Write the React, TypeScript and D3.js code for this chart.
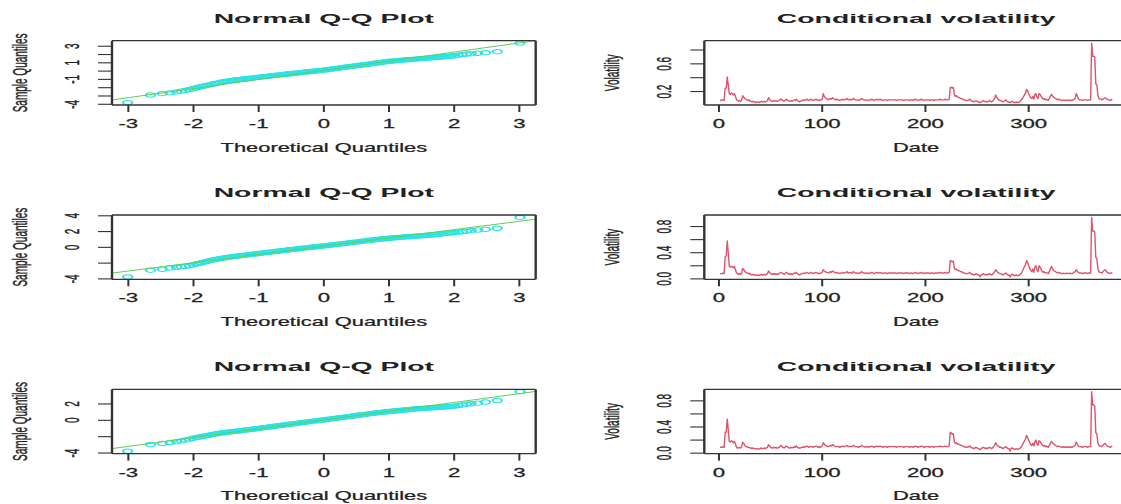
import React from 'react';
import * as d3 from 'd3';

const W = 1121;
const H = 504;

// theoretical quantiles at which the Q-Q points are read (shared by the three plots)
const qqTheory = [
  -3.01, -2.66, -2.48, -2.36, -2.26, -2.19, -2.12, -2.06, -2.01, -1.96, -1.92, -1.88, -1.84, -1.8, -1.76, -1.72, -1.68, -1.64,
  -1.6, -1.56, -1.52, -1.48, -1.44, -1.4, -1.36, -1.32, -1.28, -1.24, -1.2, -1.16, -1.12, -1.08, -1.04, -1, -0.96, -0.92, -0.88, -0.84,
  -0.8, -0.76, -0.72, -0.68, -0.64, -0.6, -0.56, -0.52, -0.48, -0.44, -0.4, -0.36, -0.32, -0.28, -0.24, -0.2, -0.16, -0.12, -0.08, -0.04,
  0,
  0.04, 0.08, 0.12, 0.16, 0.2, 0.24, 0.28, 0.32, 0.36, 0.4, 0.44, 0.48, 0.52, 0.56, 0.6, 0.64, 0.68, 0.72, 0.76, 0.8,
  0.84, 0.88, 0.92, 0.96, 1, 1.04, 1.08, 1.12, 1.16, 1.2, 1.24, 1.28, 1.32, 1.36, 1.4, 1.44, 1.48, 1.52, 1.56, 1.6,
  1.64, 1.68, 1.72, 1.76, 1.8, 1.84, 1.88, 1.92, 1.96, 2.01, 2.06, 2.12, 2.19, 2.26, 2.36, 2.48, 2.66, 3.01,
];

const qqSample1 = [
  -3.8, -2.88, -2.72, -2.62, -2.5, -2.42, -2.32, -2.22, -2.12, -2.03, -1.95, -1.87, -1.8, -1.73, -1.66, -1.59, -1.52, -1.46,
  -1.38, -1.32, -1.26, -1.21, -1.16, -1.12, -1.08, -1.04, -1.0, -0.96, -0.93, -0.89, -0.86, -0.82, -0.79, -0.74, -0.7, -0.67, -0.63, -0.6,
  -0.56, -0.52, -0.49, -0.45, -0.42, -0.38, -0.35, -0.32, -0.29, -0.25, -0.22, -0.18, -0.15, -0.11, -0.08, -0.05, -0.02, 0.02, 0.05, 0.09,
  0.12,
  0.16, 0.2, 0.25, 0.29, 0.33, 0.37, 0.42, 0.46, 0.5, 0.54, 0.59, 0.63, 0.67, 0.71, 0.76, 0.8, 0.84, 0.88, 0.93, 0.97,
  1.01, 1.05, 1.1, 1.14, 1.18, 1.21, 1.23, 1.26, 1.29, 1.32, 1.35, 1.37, 1.4, 1.42, 1.45, 1.47, 1.5, 1.52, 1.54, 1.56,
  1.59, 1.62, 1.64, 1.67, 1.7, 1.73, 1.76, 1.79, 1.82, 1.86, 1.92, 1.99, 2.06, 2.1, 2.15, 2.22, 2.34, 3.38,
];
const qqSample2 = [
  -3.75, -2.9, -2.78, -2.62, -2.52, -2.46, -2.4, -2.32, -2.22, -2.12, -2.04, -1.96, -1.88, -1.8, -1.72, -1.64, -1.56, -1.49,
  -1.43, -1.38, -1.33, -1.28, -1.23, -1.18, -1.14, -1.1, -1.06, -1.02, -0.98, -0.94, -0.9, -0.86, -0.82, -0.78, -0.74, -0.7, -0.66, -0.62,
  -0.58, -0.54, -0.5, -0.46, -0.42, -0.38, -0.34, -0.3, -0.26, -0.22, -0.18, -0.15, -0.11, -0.07, -0.03, 0.01, 0.04, 0.08, 0.11, 0.15,
  0.18,
  0.22, 0.26, 0.3, 0.34, 0.38, 0.42, 0.46, 0.5, 0.54, 0.58, 0.62, 0.66, 0.7, 0.74, 0.78, 0.82, 0.86, 0.9, 0.94, 0.98,
  1.02, 1.05, 1.09, 1.12, 1.15, 1.18, 1.21, 1.24, 1.27, 1.29, 1.32, 1.34, 1.37, 1.39, 1.42, 1.44, 1.46, 1.48, 1.51, 1.53,
  1.56, 1.59, 1.62, 1.66, 1.7, 1.74, 1.77, 1.8, 1.84, 1.88, 1.93, 1.98, 2.05, 2.12, 2.2, 2.28, 2.42, 3.8,
];
const qqSample3 = [
  -3.78, -2.96, -2.84, -2.72, -2.62, -2.52, -2.4, -2.3, -2.2, -2.12, -2.06, -2.0, -1.94, -1.88, -1.82, -1.76, -1.7, -1.64,
  -1.58, -1.54, -1.5, -1.46, -1.42, -1.39, -1.35, -1.31, -1.27, -1.23, -1.19, -1.15, -1.11, -1.07, -1.03, -0.99, -0.95, -0.9, -0.86, -0.82,
  -0.78, -0.73, -0.69, -0.65, -0.61, -0.56, -0.52, -0.48, -0.44, -0.4, -0.36, -0.31, -0.27, -0.23, -0.19, -0.14, -0.1, -0.07, -0.03, 0.01,
  0.05,
  0.1, 0.14, 0.18, 0.22, 0.27, 0.31, 0.35, 0.39, 0.44, 0.48, 0.52, 0.56, 0.61, 0.65, 0.69, 0.73, 0.78, 0.82, 0.86, 0.9,
  0.94, 0.97, 1.01, 1.04, 1.07, 1.1, 1.14, 1.17, 1.2, 1.23, 1.26, 1.29, 1.33, 1.36, 1.39, 1.42, 1.44, 1.46, 1.48, 1.5,
  1.52, 1.54, 1.56, 1.58, 1.61, 1.63, 1.65, 1.67, 1.69, 1.74, 1.8, 1.88, 1.96, 2.04, 2.1, 2.24, 2.42, 3.5,
];

// qqline: [intercept, slope]
const qqLine1 = [0.1, 1.1];
const qqLine2 = [0.15, 1.05];
const qqLine3 = [0.035, 1.075];

const qqXTicks = [-3, -2, -1, 0, 1, 2, 3];
const qqYTicks1 = [-4, -3, -2, -1, 0, 1, 2, 3];
const qqYLabels1 = [-4, -1, 1, 3];
const qqYTicks2 = [-4, -2, 0, 2, 4];
const qqYLabels2 = [-4, 0, 2, 4];
const qqYTicks3 = [-4, -2, 0, 2];
const qqYLabels3 = [-4, 0, 2];

// conditional volatility, one value per date index 1..381
const vol1 = [
  0.07, 0.07, 0.08, 0.08, 0.07, 0.25, 0.25, 0.41, 0.3, 0.17, 0.16, 0.18, 0.17, 0.15, 0.17, 0.13, 0.08, 0.07, 0.06, 0.07,
  0.06, 0.08, 0.14, 0.12, 0.1, 0.09, 0.08, 0.07, 0.08, 0.06, 0.06, 0.05, 0.06, 0.05, 0.05, 0.04, 0.05, 0.05, 0.04, 0.05,
  0.06, 0.05, 0.05, 0.06, 0.05, 0.06, 0.07, 0.11, 0.09,
  0.07, 0.06, 0.06, 0.07, 0.06, 0.07, 0.06, 0.06, 0.07, 0.08, 0.09,
  0.08, 0.07, 0.06, 0.07, 0.09, 0.08, 0.07, 0.06, 0.06, 0.07,
  0.06, 0.07, 0.08, 0.07, 0.09, 0.07, 0.06, 0.05, 0.06, 0.07,
  0.07, 0.08, 0.07, 0.08, 0.09, 0.08, 0.07, 0.08, 0.09, 0.08,
  0.07, 0.08, 0.08, 0.09, 0.08, 0.07, 0.08, 0.07, 0.08, 0.09,
  0.17, 0.13, 0.11, 0.1,
  0.09, 0.08, 0.09, 0.1, 0.09, 0.11, 0.1, 0.09, 0.08, 0.09, 0.08,
  0.08, 0.07, 0.08, 0.08, 0.09, 0.08, 0.08, 0.09, 0.1, 0.08,
  0.08, 0.09, 0.08, 0.08, 0.1, 0.09, 0.08, 0.08, 0.08, 0.07,
  0.08, 0.08, 0.1, 0.09, 0.08, 0.08, 0.07, 0.08, 0.08, 0.07,
  0.08, 0.08, 0.09, 0.08, 0.07, 0.08, 0.08, 0.09, 0.08, 0.08,
  0.09, 0.08, 0.08, 0.07, 0.08, 0.08, 0.08, 0.07, 0.08, 0.08,
  0.08, 0.08, 0.08, 0.08, 0.08, 0.08, 0.07, 0.08, 0.08, 0.08,
  0.08, 0.08, 0.08, 0.07, 0.08, 0.08, 0.08, 0.08, 0.08, 0.07,
  0.08, 0.08, 0.07, 0.08, 0.09, 0.08, 0.08, 0.07, 0.08, 0.08,
  0.09, 0.08, 0.08, 0.07, 0.08, 0.08, 0.08, 0.08, 0.07, 0.08,
  0.08, 0.08, 0.07, 0.08, 0.08, 0.08, 0.08, 0.08, 0.09, 0.08,
  0.08, 0.08, 0.08, 0.09, 0.08, 0.08, 0.08, 0.09,
  0.26, 0.26, 0.25, 0.26,
  0.15, 0.13, 0.14, 0.12, 0.12, 0.11, 0.1, 0.1, 0.09, 0.08, 0.08, 0.07, 0.07,
  0.07, 0.08, 0.09, 0.07, 0.06, 0.06, 0.05, 0.06, 0.07, 0.06, 0.05, 0.05, 0.04, 0.05, 0.06, 0.07, 0.06, 0.05, 0.06, 0.05,
  0.06, 0.07, 0.06, 0.05, 0.06, 0.08, 0.1,
  0.15, 0.12, 0.1, 0.08, 0.07,
  0.07, 0.06, 0.05, 0.06, 0.07, 0.08, 0.06, 0.05, 0.05, 0.04, 0.05, 0.06, 0.05, 0.04, 0.04, 0.05, 0.04, 0.04, 0.05, 0.06,
  0.08, 0.1, 0.13, 0.15,
  0.18, 0.23, 0.21, 0.17, 0.14, 0.11,
  0.1, 0.13, 0.09, 0.16, 0.17, 0.12, 0.1, 0.17, 0.16, 0.13, 0.11, 0.09, 0.1, 0.08, 0.09, 0.08, 0.07, 0.1, 0.13, 0.16,
  0.14, 0.12, 0.11, 0.1, 0.09, 0.08, 0.09, 0.08,
  0.08, 0.07, 0.07, 0.08, 0.07, 0.07, 0.08, 0.07, 0.07, 0.08, 0.07, 0.07, 0.08, 0.09, 0.1,
  0.17, 0.14, 0.1,
  0.08, 0.08, 0.08, 0.07, 0.08, 0.08, 0.08, 0.08, 0.07, 0.08, 0.08, 0.08,
  0.9, 0.71, 0.71, 0.7, 0.31, 0.3, 0.15, 0.1,
  0.09, 0.09, 0.08, 0.09, 0.1, 0.11, 0.1, 0.09, 0.08, 0.08, 0.07, 0.08, 0.09,
];

const vol2 = [
  0.08, 0.08, 0.08, 0.09, 0.08, 0.34, 0.35, 0.58, 0.4, 0.19, 0.18, 0.19, 0.19, 0.17, 0.19, 0.14, 0.09, 0.08, 0.07, 0.08,
  0.07, 0.09, 0.16, 0.14, 0.12, 0.1, 0.09, 0.08, 0.09, 0.07, 0.07, 0.06, 0.07, 0.06, 0.06, 0.05, 0.06, 0.06, 0.05, 0.06,
  0.07, 0.06, 0.06, 0.07, 0.06, 0.07, 0.08, 0.12, 0.1,
  0.08, 0.07, 0.07, 0.08, 0.07, 0.08, 0.07, 0.07, 0.08, 0.09, 0.1,
  0.09, 0.08, 0.07, 0.08, 0.1, 0.09, 0.08, 0.07, 0.07, 0.08,
  0.07, 0.08, 0.09, 0.08, 0.1, 0.08, 0.07, 0.06, 0.07, 0.08,
  0.08, 0.09, 0.08, 0.09, 0.1, 0.09, 0.08, 0.09, 0.1, 0.09,
  0.08, 0.09, 0.09, 0.1, 0.09, 0.08, 0.09, 0.08, 0.09, 0.1,
  0.14, 0.12, 0.11, 0.1,
  0.1, 0.09, 0.1, 0.11, 0.1, 0.12, 0.11, 0.1, 0.09, 0.1, 0.09,
  0.09, 0.08, 0.09, 0.09, 0.1, 0.09, 0.09, 0.1, 0.11, 0.09,
  0.09, 0.1, 0.09, 0.09, 0.11, 0.1, 0.09, 0.09, 0.09, 0.08,
  0.09, 0.09, 0.11, 0.1, 0.09, 0.09, 0.08, 0.09, 0.09, 0.08,
  0.09, 0.09, 0.1, 0.09, 0.08, 0.09, 0.09, 0.1, 0.09, 0.09,
  0.1, 0.09, 0.09, 0.08, 0.09, 0.09, 0.09, 0.08, 0.09, 0.09,
  0.09, 0.09, 0.09, 0.09, 0.09, 0.09, 0.08, 0.09, 0.09, 0.09,
  0.09, 0.09, 0.09, 0.08, 0.09, 0.09, 0.09, 0.09, 0.09, 0.08,
  0.09, 0.09, 0.08, 0.09, 0.1, 0.09, 0.09, 0.08, 0.09, 0.09,
  0.1, 0.09, 0.09, 0.08, 0.09, 0.09, 0.09, 0.09, 0.08, 0.09,
  0.09, 0.09, 0.08, 0.09, 0.09, 0.09, 0.09, 0.09, 0.1, 0.09,
  0.09, 0.09, 0.09, 0.1, 0.09, 0.09, 0.09, 0.1,
  0.28, 0.27, 0.26, 0.27,
  0.16, 0.14, 0.15, 0.13, 0.13, 0.12, 0.11, 0.11, 0.1, 0.09, 0.09, 0.08, 0.08,
  0.08, 0.09, 0.1, 0.08, 0.07, 0.07, 0.06, 0.07, 0.08, 0.07, 0.06, 0.06, 0.03, 0.06, 0.07, 0.08, 0.07, 0.06, 0.07, 0.06,
  0.07, 0.08, 0.07, 0.06, 0.07, 0.09, 0.11,
  0.14, 0.12, 0.1, 0.09, 0.08,
  0.08, 0.07, 0.06, 0.07, 0.08, 0.09, 0.07, 0.06, 0.06, 0.03, 0.06, 0.07, 0.06, 0.05, 0.05, 0.06, 0.05, 0.05, 0.06, 0.07,
  0.09, 0.12, 0.16, 0.19,
  0.22, 0.28, 0.25, 0.2, 0.16, 0.13,
  0.11, 0.15, 0.1, 0.18, 0.2, 0.14, 0.11, 0.2, 0.18, 0.15, 0.12, 0.1, 0.11, 0.09, 0.1, 0.09, 0.08, 0.11, 0.15, 0.19,
  0.16, 0.13, 0.12, 0.11, 0.1, 0.09, 0.1, 0.09,
  0.09, 0.08, 0.08, 0.09, 0.08, 0.08, 0.09, 0.08, 0.08, 0.09, 0.08, 0.08, 0.09, 0.1, 0.11,
  0.14, 0.12, 0.1,
  0.09, 0.09, 0.09, 0.08, 0.09, 0.09, 0.09, 0.09, 0.08, 0.09, 0.09, 0.09,
  0.94, 0.73, 0.73, 0.72, 0.33, 0.31, 0.16, 0.11,
  0.1, 0.1, 0.09, 0.11, 0.13, 0.14, 0.12, 0.1, 0.09, 0.09, 0.08, 0.09, 0.1,
];

const vol3 = [
  0.09, 0.09, 0.09, 0.1, 0.09, 0.32, 0.32, 0.52, 0.36, 0.18, 0.17, 0.19, 0.18, 0.16, 0.18, 0.14, 0.09, 0.08, 0.08, 0.09,
  0.08, 0.1, 0.17, 0.15, 0.12, 0.1, 0.1, 0.09, 0.09, 0.08, 0.08, 0.07, 0.08, 0.07, 0.07, 0.06, 0.07, 0.07, 0.06, 0.07,
  0.08, 0.07, 0.07, 0.08, 0.07, 0.08, 0.09, 0.13, 0.11,
  0.09, 0.08, 0.08, 0.09, 0.08, 0.09, 0.08, 0.08, 0.09, 0.1, 0.12,
  0.1, 0.09, 0.08, 0.09, 0.11, 0.1, 0.09, 0.08, 0.08, 0.09,
  0.08, 0.09, 0.1, 0.09, 0.11, 0.09, 0.08, 0.08, 0.08, 0.09,
  0.09, 0.1, 0.09, 0.1, 0.11, 0.1, 0.09, 0.1, 0.1, 0.1,
  0.09, 0.1, 0.1, 0.11, 0.1, 0.09, 0.1, 0.09, 0.1, 0.11,
  0.16, 0.14, 0.12, 0.11,
  0.11, 0.1, 0.11, 0.12, 0.11, 0.13, 0.12, 0.11, 0.1, 0.1, 0.1,
  0.1, 0.09, 0.1, 0.1, 0.11, 0.1, 0.1, 0.11, 0.12, 0.1,
  0.1, 0.11, 0.1, 0.1, 0.12, 0.11, 0.1, 0.1, 0.1, 0.09,
  0.1, 0.1, 0.12, 0.11, 0.1, 0.1, 0.09, 0.1, 0.1, 0.09,
  0.1, 0.1, 0.11, 0.1, 0.09, 0.1, 0.1, 0.11, 0.1, 0.1,
  0.11, 0.1, 0.1, 0.09, 0.1, 0.1, 0.1, 0.09, 0.1, 0.1,
  0.1, 0.1, 0.1, 0.1, 0.1, 0.1, 0.09, 0.1, 0.1, 0.1,
  0.1, 0.1, 0.1, 0.09, 0.1, 0.1, 0.1, 0.1, 0.1, 0.09,
  0.1, 0.1, 0.09, 0.1, 0.11, 0.1, 0.1, 0.09, 0.1, 0.1,
  0.11, 0.1, 0.1, 0.09, 0.1, 0.1, 0.1, 0.1, 0.09, 0.1,
  0.1, 0.1, 0.09, 0.1, 0.1, 0.1, 0.1, 0.1, 0.11, 0.1,
  0.1, 0.1, 0.1, 0.11, 0.1, 0.1, 0.1, 0.11,
  0.32, 0.31, 0.29, 0.3,
  0.17, 0.15, 0.16, 0.14, 0.14, 0.13, 0.12, 0.12, 0.11, 0.1, 0.1, 0.09, 0.09,
  0.09, 0.1, 0.11, 0.09, 0.08, 0.08, 0.07, 0.08, 0.09, 0.08, 0.07, 0.07, 0.05, 0.07, 0.08, 0.09, 0.08, 0.07, 0.08, 0.07,
  0.08, 0.09, 0.08, 0.07, 0.08, 0.1, 0.12,
  0.16, 0.13, 0.11, 0.1, 0.09,
  0.09, 0.08, 0.07, 0.08, 0.09, 0.1, 0.08, 0.07, 0.07, 0.03, 0.07, 0.08, 0.07, 0.06, 0.06, 0.07, 0.06, 0.06, 0.07, 0.08,
  0.1, 0.13, 0.16, 0.19,
  0.22, 0.27, 0.24, 0.2, 0.16, 0.13,
  0.12, 0.15, 0.11, 0.18, 0.2, 0.14, 0.12, 0.19, 0.18, 0.15, 0.13, 0.11, 0.12, 0.1, 0.11, 0.1, 0.09, 0.12, 0.15, 0.18,
  0.16, 0.14, 0.13, 0.12, 0.11, 0.1, 0.11, 0.1,
  0.1, 0.09, 0.09, 0.1, 0.09, 0.09, 0.1, 0.09, 0.09, 0.1, 0.09, 0.09, 0.1, 0.11, 0.12,
  0.17, 0.14, 0.11,
  0.1, 0.1, 0.1, 0.09, 0.1, 0.1, 0.1, 0.1, 0.09, 0.1, 0.1, 0.1,
  0.94, 0.74, 0.74, 0.72, 0.31, 0.3, 0.16, 0.12,
  0.11, 0.11, 0.1, 0.12, 0.14, 0.15, 0.13, 0.11, 0.1, 0.1, 0.09, 0.1, 0.11,
];

const volXTicks = [0, 100, 200, 300];
const volYTicks1 = [0.2, 0.4, 0.6, 0.8];
const volYLabels1 = [0.2, 0.6];
const volYTicks2 = [0, 0.2, 0.4, 0.6, 0.8];
const volYLabels2 = [0, 0.4, 0.8];
const volYTicks3 = [0, 0.2, 0.4, 0.6, 0.8];
const volYLabels3 = [0, 0.4, 0.8];

const FONT = "'Liberation Sans', Arial, Helvetica, sans-serif";
const INK = '#222';
const AXIS = '#333';
const QQ_PT = '#28E2E5';
const QQ_LN = '#61D04F';
const VOL_LN = '#DF536B';

const QQ_L = 112;
const QQ_R = 535.7;
const VOL_L = 704.3;
const VOL_R = 1128;
const ROW_TOP = [40.7, 215, 389.3];
const BOX_H = 64.3;

// R's default 4% axis extension
const ext = ([a, b]: [number, number]): [number, number] => [a - 0.04 * (b - a), b + 0.04 * (b - a)];

type FrameProps = {
  id: string;
  left: number;
  right: number;
  top: number;
  x: d3.ScaleLinear<number, number>;
  y: d3.ScaleLinear<number, number>;
  xTicks: number[];
  yTicks: number[];
  yLabels: number[];
  yFmt: (v: number) => string;
  title: string;
  xTitle: string;
  yTitle: string;
  children: React.ReactNode;
};

const Frame = ({ id, left, right, top, x, y, xTicks, yTicks, yLabels, yFmt, title, xTitle, yTitle, children }: FrameProps) => {
  const bottom = top + BOX_H;
  const cx = (left + right) / 2;
  return (
    <g fontFamily={FONT} fill={INK}>
      <clipPath id={id}>
        <rect x={left} y={top} width={right - left} height={BOX_H} />
      </clipPath>
      <g clipPath={`url(#${id})`}>{children}</g>

      {/* box */}
      <line x1={left} x2={right} y1={top} y2={top} stroke={AXIS} strokeWidth={1.3} />
      <line x1={left} x2={right} y1={bottom} y2={bottom} stroke={AXIS} strokeWidth={1.3} />
      <line x1={left} x2={left} y1={top} y2={bottom} stroke={AXIS} strokeWidth={2.4} />
      <line x1={right} x2={right} y1={top} y2={bottom} stroke={AXIS} strokeWidth={2.4} />

      {/* x axis */}
      {xTicks.map((t) => (
        <g key={`xt${t}`}>
          <line x1={x(t)} x2={x(t)} y1={bottom} y2={bottom + 7} stroke={AXIS} strokeWidth={2} />
          <text
            transform={`translate(${x(t)},${bottom + 23}) scale(1.85,1)`}
            fontSize={12}
            textAnchor="middle"
            stroke={INK}
            strokeWidth={0.25}
          >
            {String(t)}
          </text>
        </g>
      ))}

      {/* y axis */}
      {yTicks.map((t) => (
        <line key={`yt${t}`} x1={left - 14} x2={left} y1={y(t)} y2={y(t)} stroke={AXIS} strokeWidth={1.1} />
      ))}
      {yLabels.map((t) => (
        <text
          key={`yl${t}`}
          transform={`translate(${left - 33},${y(t)}) scale(2.1,1) rotate(-90)`}
          fontSize={10}
          textAnchor="middle"
          stroke={INK}
          strokeWidth={0.2}
        >
          {yFmt(t)}
        </text>
      ))}

      <text
        transform={`translate(${cx},${top - 18}) scale(2.1,1)`}
        fontSize={13.5}
        fontWeight="bold"
        textAnchor="middle"
      >
        {title}
      </text>
      <text
        transform={`translate(${cx},${bottom + 46.7}) scale(1.75,1)`}
        fontSize={12.5}
        textAnchor="middle"
        stroke={INK}
        strokeWidth={0.25}
      >
        {xTitle}
      </text>
      <text
        transform={`translate(${left - 85.5},${(top + bottom) / 2}) scale(2.1,1) rotate(-90)`}
        fontSize={10}
        textAnchor="middle"
        stroke={INK}
        strokeWidth={0.2}
      >
        {yTitle}
      </text>
    </g>
  );
};

const QQPanel = ({ row, sample, qqline, yTicks, yLabels }: { row: number; sample: number[]; qqline: number[]; yTicks: number[]; yLabels: number[] }) => {
  const top = ROW_TOP[row];
  const xDom = ext(d3.extent(qqTheory) as [number, number]);
  const yDom = ext(d3.extent(sample) as [number, number]);
  const x = d3.scaleLinear().domain(xDom).range([QQ_L, QQ_R]);
  const y = d3.scaleLinear().domain(yDom).range([top + BOX_H, top]);
  const [a, b] = qqline;
  return (
    <Frame
      id={`qq${row}`}
      left={QQ_L}
      right={QQ_R}
      top={top}
      x={x}
      y={y}
      xTicks={qqXTicks}
      yTicks={yTicks}
      yLabels={yLabels}
      yFmt={(v) => String(v)}
      title="Normal Q-Q Plot"
      xTitle="Theoretical Quantiles"
      yTitle="Sample Quantiles"
    >
      {qqTheory.map((t, i) => (
        <circle
          key={i}
          transform={`translate(${x(t)},${y(sample[i])}) scale(2.1,1)`}
          r={2.2}
          fill="none"
          stroke={QQ_PT}
          strokeWidth={1}
        />
      ))}
      <line
        x1={x(xDom[0])}
        y1={y(a + b * xDom[0])}
        x2={x(xDom[1])}
        y2={y(a + b * xDom[1])}
        stroke={QQ_LN}
        strokeWidth={1}
      />
    </Frame>
  );
};

const VolPanel = ({ row, values, yTicks, yLabels }: { row: number; values: number[]; yTicks: number[]; yLabels: number[] }) => {
  const top = ROW_TOP[row];
  const x = d3.scaleLinear().domain(ext([1, values.length])).range([VOL_L, VOL_R]);
  const y = d3.scaleLinear().domain(ext(d3.extent(values) as [number, number])).range([top + BOX_H, top]);
  const path = d3
    .line<number>()
    .x((_, i) => x(i + 1))
    .y((d) => y(d))(values);
  const fmt = d3.format('.1f');
  return (
    <Frame
      id={`vol${row}`}
      left={VOL_L}
      right={VOL_R}
      top={top}
      x={x}
      y={y}
      xTicks={volXTicks}
      yTicks={yTicks}
      yLabels={yLabels}
      yFmt={fmt}
      title="Conditional volatility"
      xTitle="Date"
      yTitle="Volatility"
    >
      <path d={path ?? ''} fill="none" stroke={VOL_LN} strokeWidth={1.4} strokeLinejoin="round" />
    </Frame>
  );
};

export default function App() {
  return (
    <svg
      width={W}
      height={H}
      viewBox={`0 0 ${W} ${H}`}
      style={{ position: 'absolute', left: 0, top: 0, background: '#fff' }}
    >
      <rect width={W} height={H} fill="#fff" />
      <QQPanel row={0} sample={qqSample1} qqline={qqLine1} yTicks={qqYTicks1} yLabels={qqYLabels1} />
      <QQPanel row={1} sample={qqSample2} qqline={qqLine2} yTicks={qqYTicks2} yLabels={qqYLabels2} />
      <QQPanel row={2} sample={qqSample3} qqline={qqLine3} yTicks={qqYTicks3} yLabels={qqYLabels3} />
      <VolPanel row={0} values={vol1} yTicks={volYTicks1} yLabels={volYLabels1} />
      <VolPanel row={1} values={vol2} yTicks={volYTicks2} yLabels={volYLabels2} />
      <VolPanel row={2} values={vol3} yTicks={volYTicks3} yLabels={volYLabels3} />
    </svg>
  );
}
